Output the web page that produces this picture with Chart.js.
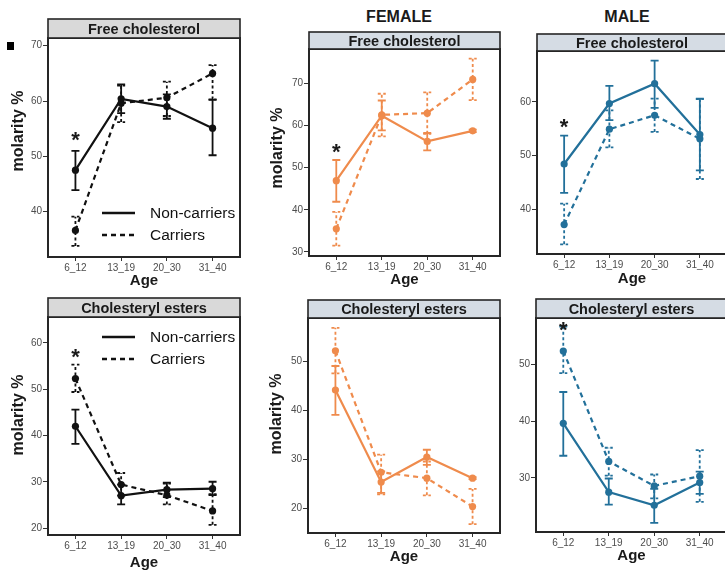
<!DOCTYPE html>
<html>
<head>
<meta charset="utf-8">
<script src="https://cdn.jsdelivr.net/npm/chart.js@4.4.1/dist/chart.umd.min.js"></script>
<style>
  body { margin: 0; width: 725px; height: 571px; overflow: hidden; background: #fff; position: relative;
         font-family: "Liberation Sans", Arial, sans-serif; }
  canvas { position: absolute; }
  .head { position: absolute; font-weight: bold; font-size: 16px; color: #1a1a1a; transform: translate(-50%, -50%); }
</style>
</head>
<body>
<div class="head" style="left:399px;top:17px">FEMALE</div>
<div class="head" style="left:627px;top:17px">MALE</div>
<div style="position:absolute;left:7px;top:42px;width:7px;height:8px;background:#000"></div>
<canvas id="c1"></canvas>
<canvas id="c2"></canvas>
<canvas id="c3"></canvas>
<canvas id="c4"></canvas>
<canvas id="c5"></canvas>
<canvas id="c6"></canvas>
<script>
const ageGroups = ['6_12', '13_19', '20_30', '31_40'];
const seriesNames = ['Non-carriers', 'Carriers'];

// Free cholesterol, all
const fcAllNon = [47.5, 60.4, 59.0, 55.1];
const fcAllNonLo = [43.9, 57.8, 56.8, 50.2];
const fcAllNonHi = [51.0, 63.0, 61.2, 60.2];
const fcAllCar = [36.6, 59.6, 60.6, 65.0];
const fcAllCarLo = [33.8, 56.2, 57.3, 60.3];
const fcAllCarHi = [39.1, 62.8, 63.5, 66.5];

// Free cholesterol, female
const fcFemNon = [46.9, 62.3, 56.2, 58.7];
const fcFemNonLo = [41.9, 58.8, 54.1, 58.4];
const fcFemNonHi = [51.8, 65.9, 58.2, 59.0];
const fcFemCar = [35.5, 62.5, 62.9, 70.9];
const fcFemCarLo = [31.5, 57.4, 58.0, 66.0];
const fcFemCarHi = [39.5, 67.5, 67.8, 75.8];

// Free cholesterol, male
const fcMalNon = [48.4, 59.7, 63.4, 53.9];
const fcMalNonLo = [43.0, 56.6, 58.9, 47.2];
const fcMalNonHi = [53.7, 63.0, 67.7, 60.6];
const fcMalCar = [37.1, 54.9, 57.5, 53.1];
const fcMalCarLo = [33.4, 51.5, 54.4, 45.6];
const fcMalCarHi = [41.0, 58.4, 60.6, 60.5];

// Cholesteryl esters, all
const ceAllNon = [42.0, 27.0, 28.3, 28.5];
const ceAllNonLo = [38.2, 25.1, 26.7, 27.1];
const ceAllNonHi = [45.6, 29.4, 29.8, 30.0];
const ceAllCar = [52.3, 29.4, 27.1, 23.7];
const ceAllCarLo = [49.4, 27.0, 25.1, 20.7];
const ceAllCarHi = [55.3, 31.9, 29.6, 27.3];

// Cholesteryl esters, female
const ceFemNon = [44.1, 25.3, 30.4, 26.1];
const ceFemNonLo = [39.0, 23.1, 28.8, 25.9];
const ceFemNonHi = [49.0, 27.5, 31.9, 26.3];
const ceFemCar = [52.1, 27.3, 26.1, 20.3];
const ceFemCarLo = [47.5, 22.8, 22.6, 16.7];
const ceFemCarHi = [56.8, 30.9, 29.5, 23.9];

// Cholesteryl esters, male
const ceMalNon = [39.6, 27.5, 25.2, 29.2];
const ceMalNonLo = [33.9, 25.3, 22.1, 27.2];
const ceMalNonHi = [45.1, 29.9, 28.1, 31.1];
const ceMalCar = [52.3, 32.9, 28.6, 30.3];
const ceMalCarLo = [48.4, 30.4, 26.4, 25.8];
const ceMalCarHi = [56.6, 35.3, 30.6, 34.9];

// significance marks (value on the y axis, at 6_12)
const starValues = [53.9, 55.0, 56.3, 58.2, null, 57.0];

const FONT = '"Liberation Sans", Arial, sans-serif';
const black = '#111111', orange = '#EF8B4C', blue = '#22709A';

// canvas box and plot area, page pixels
const panels = [
  { id: 'c1', title: 'Free cholesterol', color: black, strip: '#D9D9D9',
    series: [[fcAllNon, fcAllNonLo, fcAllNonHi], [fcAllCar, fcAllCarLo, fcAllCarHi]],
    yMin: 31.8, yMax: 71.4, yTicks: [40, 50, 60, 70], legend: true, yTitle: [19, 131], ageY: 281,
    box: { l: 0, t: 0, w: 245, h: 292 }, plot: { l: 48, t: 38, r: 240, b: 257 }, stripTop: 19 },
  { id: 'c2', title: 'Free cholesterol', color: orange, strip: '#D5DCE4',
    series: [[fcFemNon, fcFemNonLo, fcFemNonHi], [fcFemCar, fcFemCarLo, fcFemCarHi]],
    yMin: 29.05, yMax: 78.1, yTicks: [30, 40, 50, 60, 70], legend: false, yTitle: [278, 148], ageY: 280,
    box: { l: 255, t: 0, w: 250, h: 292 }, plot: { l: 309, t: 49, r: 500, b: 256 }, stripTop: 32 },
  { id: 'c3', title: 'Free cholesterol', color: blue, strip: '#D5DCE4',
    series: [[fcMalNon, fcMalNonLo, fcMalNonHi], [fcMalCar, fcMalCarLo, fcMalCarHi]],
    yMin: 31.6, yMax: 69.5, yTicks: [40, 50, 60], legend: false, yTitle: null, ageY: 279,
    box: { l: 505, t: 0, w: 232, h: 292 }, plot: { l: 537, t: 51, r: 727, b: 254 }, stripTop: 34 },
  { id: 'c4', title: 'Cholesteryl esters', color: black, strip: '#D9D9D9',
    series: [[ceAllNon, ceAllNonLo, ceAllNonHi], [ceAllCar, ceAllCarLo, ceAllCarHi]],
    yMin: 18.5, yMax: 65.6, yTicks: [20, 30, 40, 50, 60], legend: true, yTitle: [19, 415], ageY: 563,
    box: { l: 0, t: 292, w: 245, h: 279 }, plot: { l: 48, t: 317, r: 240, b: 535 }, stripTop: 298 },
  { id: 'c5', title: 'Cholesteryl esters', color: orange, strip: '#D5DCE4',
    series: [[ceFemNon, ceFemNonLo, ceFemNonHi], [ceFemCar, ceFemCarLo, ceFemCarHi]],
    yMin: 14.9, yMax: 58.8, yTicks: [20, 30, 40, 50], legend: false, yTitle: [277, 414], ageY: 557,
    box: { l: 255, t: 292, w: 250, h: 279 }, plot: { l: 308, t: 318, r: 500, b: 533 }, stripTop: 300 },
  { id: 'c6', title: 'Cholesteryl esters', color: blue, strip: '#D5DCE4',
    series: [[ceMalNon, ceMalNonLo, ceMalNonHi], [ceMalCar, ceMalCarLo, ceMalCarHi]],
    yMin: 20.5, yMax: 58.1, yTicks: [30, 40, 50], legend: false, yTitle: null, ageY: 556,
    box: { l: 505, t: 292, w: 232, h: 279 }, plot: { l: 536, t: 318, r: 727, b: 532 }, stripTop: 299 },
];

// strip, border, error bars, star, y title and legend
function makeDeco(p, star) {
  return {
    id: 'deco',
    beforeDatasetsDraw(chart) {
      const { ctx, scales: { x, y } } = chart;
      p.series.forEach((s, i) => {
        ctx.save();
        ctx.strokeStyle = p.color;
        ctx.lineWidth = 1.8;
        ctx.setLineDash(i === 0 ? [] : [3, 2.5]);
        s[0].forEach((_, j) => {
          const px = x.getPixelForValue(j + 1);
          const lo = y.getPixelForValue(s[1][j]);
          const hi = y.getPixelForValue(s[2][j]);
          ctx.beginPath();
          ctx.moveTo(px, lo); ctx.lineTo(px, hi);
          ctx.moveTo(px - 4, lo); ctx.lineTo(px + 4, lo);
          ctx.moveTo(px - 4, hi); ctx.lineTo(px + 4, hi);
          ctx.stroke();
        });
        ctx.restore();
      });
    },
    afterDraw(chart) {
      const { ctx, chartArea: a, scales: { x, y } } = chart;
      ctx.save();
      // panel border
      ctx.strokeStyle = '#262626';
      ctx.lineWidth = 2;
      ctx.strokeRect(a.left, a.top, a.right - a.left, a.bottom - a.top);
      // strip
      const st = p.stripTop - p.box.t;
      ctx.fillStyle = p.strip;
      ctx.fillRect(a.left, st, a.right - a.left, a.top - st);
      ctx.lineWidth = 1.6;
      ctx.strokeRect(a.left, st, a.right - a.left, a.top - st);
      ctx.fillStyle = '#1a1a1a';
      ctx.font = 'bold 14.5px ' + FONT;
      ctx.textAlign = 'center';
      ctx.textBaseline = 'middle';
      ctx.fillText(p.title, (a.left + a.right) / 2, (st + a.top) / 2 + 1);
      // y axis title
      if (p.yTitle) {
        ctx.save();
        ctx.translate(p.yTitle[0] - p.box.l, p.yTitle[1] - p.box.t);
        ctx.rotate(-Math.PI / 2);
        ctx.font = 'bold 16px ' + FONT;
        ctx.fillText('molarity %', 0, 0);
        ctx.restore();
      }
      // significance star
      if (star !== null) {
        ctx.font = 'bold 22px ' + FONT;
        ctx.textBaseline = 'alphabetic';
        ctx.fillText('*', x.getPixelForValue(1), y.getPixelForValue(star) + 12.5);
      }
      // legend inside the panel
      if (p.legend) {
        const rows = [a.top + (p.id === 'c1' ? 175 : 20), a.top + (p.id === 'c1' ? 197 : 42)];
        ctx.font = '15.5px ' + FONT;
        ctx.textAlign = 'left';
        ctx.textBaseline = 'middle';
        chart.data.datasets.forEach((ds, i) => {
          ctx.strokeStyle = black;
          ctx.lineWidth = 2.4;
          ctx.setLineDash(i === 0 ? [] : [5, 4]);
          ctx.beginPath();
          ctx.moveTo(a.left + 54, rows[i]);
          ctx.lineTo(a.left + 87, rows[i]);
          ctx.stroke();
          ctx.fillStyle = black;
          ctx.fillText(ds.label, a.left + 102, rows[i] + 1);
        });
      }
      ctx.restore();
    }
  };
}

panels.forEach((p, k) => {
  const cv = document.getElementById(p.id);
  cv.width = p.box.w; cv.height = p.box.h;
  cv.style.left = p.box.l + 'px'; cv.style.top = p.box.t + 'px';
  const boxBottom = p.box.t + p.box.h;

  new Chart(cv, {
    type: 'line',
    data: {
      datasets: p.series.map((s, i) => ({
        label: seriesNames[i],
        data: s[0].map((v, j) => ({ x: j + 1, y: v })),
        borderColor: p.color,
        backgroundColor: p.color,
        borderWidth: 2.2,
        borderDash: i === 0 ? [] : [5, 4],
        pointRadius: 3.6,
        pointBorderWidth: 0,
        tension: 0,
      })),
    },
    options: {
      responsive: false,
      animation: false,
      devicePixelRatio: 1,
      layout: { padding: { top: p.plot.t - p.box.t, right: p.box.l + p.box.w - p.plot.r, bottom: 0, left: 0 } },
      plugins: { legend: { display: false }, tooltip: { enabled: false } },
      scales: {
        x: {
          type: 'linear', min: 0.4, max: 4.6,
          afterBuildTicks: (s) => { s.ticks = ageGroups.map((_, i) => ({ value: i + 1 })); },
          afterFit: (s) => { s.height = boxBottom - p.plot.b; },
          ticks: { callback: (v) => ageGroups[v - 1], font: { size: 10, family: FONT }, color: '#4D4D4D',
                   padding: 1, autoSkip: false, maxRotation: 0 },
          grid: { drawOnChartArea: false, tickLength: 4, color: '#333' },
          border: { display: false },
          title: { display: true, text: 'Age', color: '#1a1a1a', font: { size: 15, weight: 'bold', family: FONT },
                   padding: { top: 0, bottom: boxBottom - p.ageY - 9 } },
        },
        y: {
          min: p.yMin, max: p.yMax,
          afterBuildTicks: (s) => { s.ticks = p.yTicks.map((v) => ({ value: v })); },
          afterFit: (s) => { s.width = p.plot.l - p.box.l; },
          ticks: { font: { size: 10, family: FONT }, color: '#4D4D4D', padding: 1 },
          grid: { drawOnChartArea: false, tickLength: 5, color: '#333' },
          border: { display: false },
        },
      },
    },
    plugins: [makeDeco(p, starValues[k])],
  });
});
</script>
</body>
</html>
